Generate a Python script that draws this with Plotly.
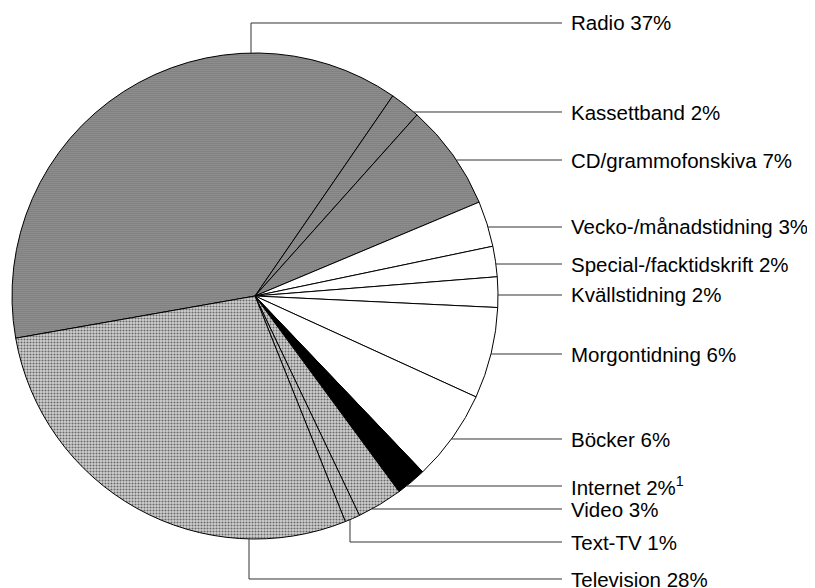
import math
import plotly.graph_objects as go

# ---- data ----
categories = ["Radio", "Kassettband", "CD/grammofonskiva", "Vecko-/månadstidning",
              "Special-/facktidskrift", "Kvällstidning", "Morgontidning", "Böcker",
              "Internet", "Video", "Text-TV", "Television"]
values = [37, 2, 7, 3, 2, 2, 6, 6, 2, 3, 1, 28]
footnotes = ["", "", "", "", "", "", "", "", "1", "", "", ""]

# ---- styling / layout ----
OFF = 8                              # page body margin
W, H = 815 - OFF, 588 - OFF
CX, CY, R = 255 - OFF, 296 - OFF, 243   # pie centre & radius in figure pixels
DARK_BASE, LIGHT_BASE = "#b6b6b6", "#d2d2d2"
dark = dict(shape=".", size=2, solidity=0.6)
light = dict(shape=".", size=3, solidity=0.4)
none = dict(shape="", size=3, solidity=0.3)
fills = [DARK_BASE] * 3 + ["#ffffff"] * 5 + ["#000000"] + [LIGHT_BASE] * 3
patterns = [dark, dark, dark, none, none, none, none, none, none, light, light, light]
pat_shapes = [p["shape"] for p in patterns]
pat_solid = [p["solidity"] for p in patterns]
pat_size = [p["size"] for p in patterns]

label_y = [23, 112, 160, 227, 264, 295, 354, 439, 486, 509, 542, 579]
label_y = [v - OFF for v in label_y]
LINE_END = 562 - OFF
TEXT_X = 569 - OFF

fig = go.Figure(go.Pie(
    labels=categories, values=values, sort=False, direction="clockwise",
    rotation=-100, textinfo="none", hoverinfo="label+percent",
    marker=dict(colors=fills, line=dict(color="#000000", width=1),
                pattern=dict(shape=pat_shapes, solidity=pat_solid, size=pat_size,
                             fgcolor="#000000", fillmode="overlay")),
    domain=dict(x=[(CX - R) / W, (CX + R) / W], y=[(H - CY - R) / H, (H - CY + R) / H]),
    showlegend=False,
))

def px(x):
    return x / W

def py(y):
    return 1 - y / H

shapes = []
annotations = []
line_style = dict(color="#333333", width=1)
for i, (cat, val) in enumerate(zip(categories, values)):
    y = label_y[i]
    if cat == "Radio":
        x0 = CX - 4
        ytop = CY - math.sqrt(R ** 2 - (x0 - CX) ** 2)
        pts = [(x0, ytop), (x0, y), (LINE_END, y)]
    elif cat == "Text-TV":
        x0 = CX + 95
        ybot = CY + math.sqrt(R ** 2 - (x0 - CX) ** 2)
        pts = [(x0, ybot), (x0, y), (LINE_END, y)]
    elif cat == "Television":
        x0 = CX - 6
        ybot = CY + math.sqrt(R ** 2 - (x0 - CX) ** 2)
        pts = [(x0, ybot), (x0, y), (LINE_END, y)]
    else:
        xs = CX + math.sqrt(max(R ** 2 - (y - CY) ** 2, 0))
        pts = [(xs, y), (LINE_END, y)]
    path = "M " + " L ".join(f"{px(a):.5f},{py(b):.5f}" for a, b in pts)
    shapes.append(dict(type="path", path=path, xref="paper", yref="paper", line=line_style))
    txt = f"{cat} {val}%"
    if footnotes[i]:
        txt += f"<sup>{footnotes[i]}</sup>"
    annotations.append(dict(x=px(TEXT_X), y=py(y), xref="paper", yref="paper",
                            text=txt, showarrow=False, xanchor="left", yanchor="middle",
                            font=dict(family="Liberation Sans, Arial, sans-serif",
                                      size=20.5, color="#000000")))

fig.update_layout(
    width=W, height=H, margin=dict(l=0, r=0, t=0, b=0),
    paper_bgcolor="#ffffff", plot_bgcolor="#ffffff",
    shapes=shapes, annotations=annotations,
)
fig.write_html("out.html")
